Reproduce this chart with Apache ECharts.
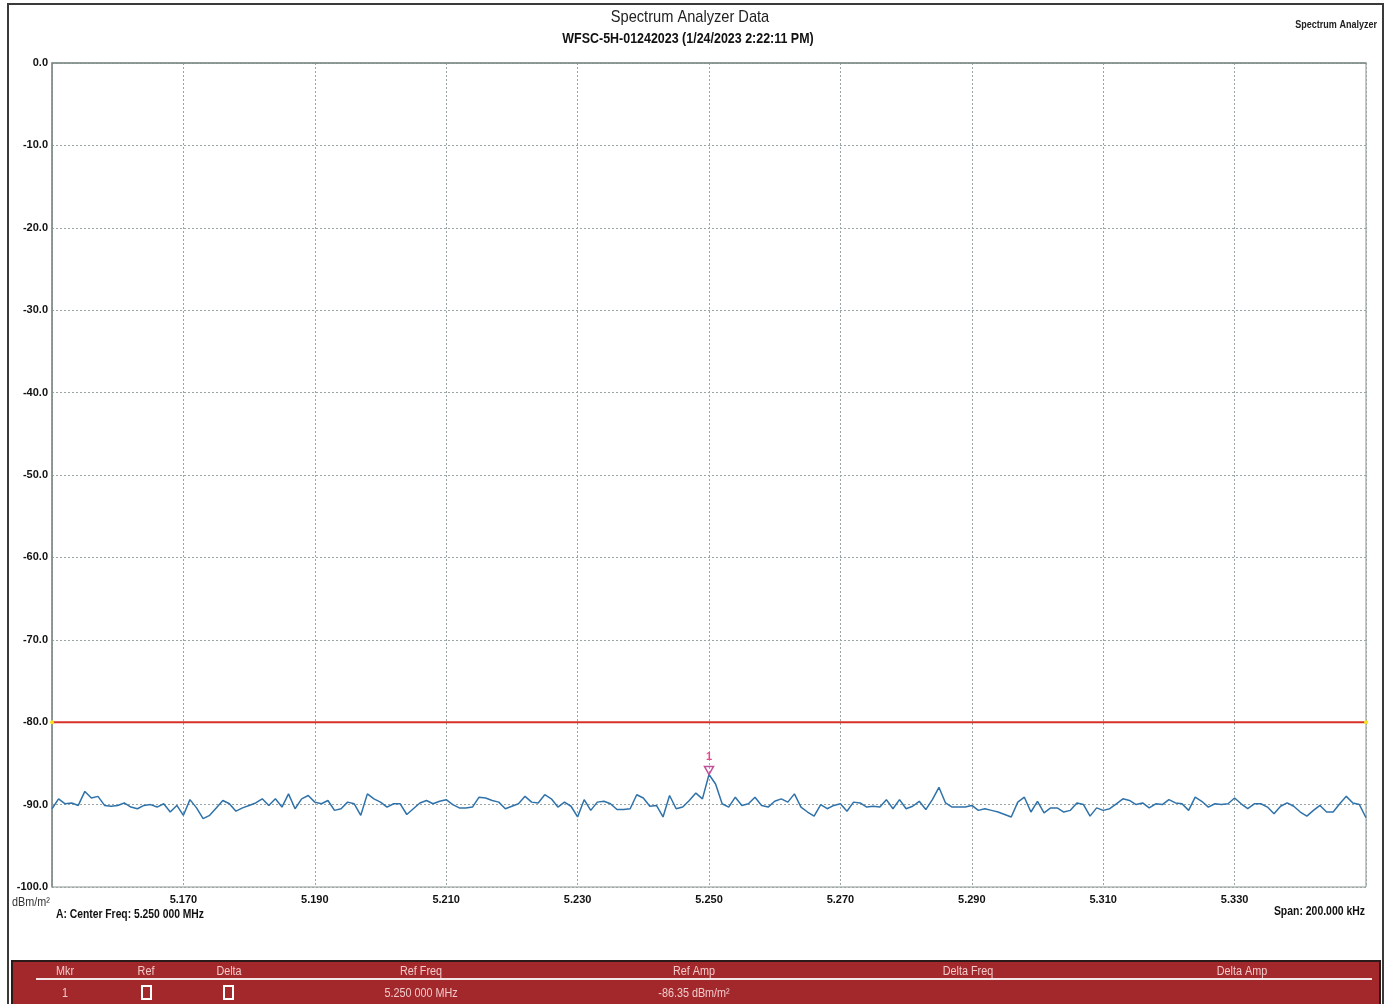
<!DOCTYPE html>
<html>
<head>
<meta charset="utf-8">
<script src="https://cdn.jsdelivr.net/npm/echarts@6/dist/echarts.min.js"></script>
<style>
html,body{margin:0;padding:0;background:#fff;}
#chart{width:1386px;height:1004px;}
</style>
</head>
<body>
<div id="chart"></div>
<script>
// ---- Data ----
const freqStartMHz = 5.150;
const freqStepMHz = 0.001;
const xTickLabels = ['5.170','5.190','5.210','5.230','5.250','5.270','5.290','5.310','5.330'];
const yTickLabels = ['0.0','-10.0','-20.0','-30.0','-40.0','-50.0','-60.0','-70.0','-80.0','-90.0','-100.0'];
const traceLevels = [
-90.5,-89.3,-89.9,-89.8,-90.1,-88.4,-89.2,-89.0,-90.1,-90.2,
-90.1,-89.8,-90.3,-90.5,-90.1,-90.0,-90.3,-89.9,-90.9,-90.1,
-91.3,-89.4,-90.4,-91.7,-91.3,-90.4,-89.5,-89.9,-90.8,-90.4,
-90.1,-89.8,-89.3,-90.1,-89.3,-90.3,-88.7,-90.5,-89.3,-88.9,
-89.7,-89.9,-89.5,-90.7,-90.5,-89.7,-89.9,-91.3,-88.7,-89.3,
-89.7,-90.3,-89.9,-89.9,-91.2,-90.5,-89.8,-89.5,-89.9,-89.6,
-89.4,-90.0,-90.4,-90.4,-90.3,-89.1,-89.2,-89.5,-89.7,-90.5,
-90.2,-89.9,-89.0,-89.7,-89.8,-88.8,-89.3,-90.3,-89.7,-90.2,
-91.5,-89.4,-90.7,-89.7,-89.6,-89.9,-90.6,-90.6,-90.5,-88.8,
-89.2,-90.2,-90.1,-91.5,-88.9,-90.5,-90.3,-89.5,-88.6,-89.3,
-86.35,-87.5,-89.9,-90.3,-89.1,-90.1,-89.9,-89.1,-90.1,-90.3,
-89.6,-89.3,-89.7,-88.7,-90.3,-90.9,-91.4,-90.0,-90.5,-90.1,
-89.9,-90.8,-89.7,-89.8,-90.3,-90.2,-90.3,-89.4,-90.5,-89.4,
-90.5,-90.2,-89.6,-90.6,-89.4,-87.9,-89.8,-90.3,-90.3,-90.3,
-90.1,-90.7,-90.5,-90.7,-90.9,-91.2,-91.5,-89.7,-89.1,-90.9,
-89.6,-91.0,-90.4,-90.4,-90.9,-90.7,-89.8,-90.0,-91.4,-90.4,
-90.7,-90.5,-89.9,-89.3,-89.5,-90.0,-89.8,-90.4,-89.9,-90.0,
-89.4,-89.8,-89.9,-90.7,-89.1,-89.6,-90.3,-89.9,-90.0,-89.9,
-89.2,-89.9,-90.5,-89.9,-89.9,-90.3,-91.1,-90.2,-89.8,-90.2,
-90.9,-91.4,-90.7,-90.1,-90.9,-90.9,-89.9,-89.0,-89.8,-90.0,
-91.6
];
const limitFreqs = [5.150, 5.350];
const limitLevels = [-80.0, -80.0];
const markerFreq = 5.250;
const markerAmp = -86.35;
const tableHeaders = ['Mkr','Ref','Delta','Ref Freq','Ref Amp','Delta Freq','Delta Amp'];
const tableRow = ['1','','','5.250 000 MHz','-86.35 dBm/m\u00b2','',''];

// ---- Build ----
const traceData = traceLevels.map((v, i) => [+(freqStartMHz + i * freqStepMHz).toFixed(3), v]);
const limitData = limitFreqs.map((f, i) => [f, limitLevels[i]]);

const FONT = '"Liberation Sans", Arial, sans-serif';
const chart = echarts.init(document.getElementById('chart'), null, {renderer: 'canvas'});

function txt(x, y, text, font, fill, align, sx) {
  return {type:'text', x:x, y:y, scaleX:sx, scaleY:1,
    style:{text:text, font:font, fill:fill, align:align, verticalAlign:'middle'}};
}

const colX = [65, 146, 229, 421, 694, 968, 1242];
const graphics = [
  {type:'rect', shape:{x:8, y:4, width:1375, height:1010}, style:{fill:'none', stroke:'#3a3a3a', lineWidth:2}, silent:true, z:-1},
  txt(690, 17, 'Spectrum Analyzer Data', '17px ' + FONT, '#222', 'center', 0.86),
  txt(688, 39, 'WFSC-5H-01242023 (1/24/2023 2:22:11 PM)', 'bold 14px ' + FONT, '#111', 'center', 0.89),
  txt(1377, 25, 'Spectrum Analyzer', 'bold 11px ' + FONT, '#222', 'right', 0.82),
  txt(12, 903, 'dBm/m\u00b2', '12px ' + FONT, '#333', 'left', 0.9),
  txt(56, 915, 'A: Center Freq: 5.250 000 MHz', 'bold 12px ' + FONT, '#111', 'left', 0.86),
  txt(1365, 912, 'Span: 200.000 kHz', 'bold 12px ' + FONT, '#111', 'right', 0.87),
  {type:'rect', shape:{x:12, y:961, width:1368, height:45}, style:{fill:'#a3282c', stroke:'#2a1a1a', lineWidth:2}, silent:true},
  {type:'line', shape:{x1:36, y1:979, x2:1372, y2:979}, style:{stroke:'#f4e6e6', lineWidth:2}, silent:true},
  {type:'rect', shape:{x:142, y:986, width:9, height:13}, style:{fill:'none', stroke:'#ffffff', lineWidth:2}, silent:true},
  {type:'rect', shape:{x:224, y:986, width:9, height:13}, style:{fill:'none', stroke:'#ffffff', lineWidth:2}, silent:true}
];
tableHeaders.forEach((h, i) => {
  graphics.push(txt(colX[i], 972, h, '12px ' + FONT, '#f2caca', 'center', 0.9));
});
tableRow.forEach((t, i) => {
  if (t) graphics.push(txt(colX[i], 994, t, '12px ' + FONT, '#f2caca', 'center', 0.9));
});

chart.setOption({
  animation: false,
  backgroundColor: '#ffffff',
  grid: {left:52, right:20, top:63, bottom:117, show:true, borderColor:'#8a9590', borderWidth:1},
  xAxis: {
    type:'value', min:5.150, max:5.350, interval:0.020,
    axisLine:{show:true, lineStyle:{color:'#7f8a85', width:1.5}},
    axisTick:{show:false},
    axisLabel:{
      showMinLabel:false, showMaxLabel:false, margin:7,
      color:'#111', fontFamily:FONT, fontSize:11, fontWeight:'bold',
      formatter: v => { const s = v.toFixed(3); return xTickLabels.includes(s) ? s : ''; }
    },
    splitLine:{show:true, lineStyle:{color:'#9aa5a5', width:1, type:[2,2]}}
  },
  yAxis: {
    type:'value', min:-100, max:0, interval:10,
    axisLine:{show:true, lineStyle:{color:'#7f8a85', width:1.5}},
    axisTick:{show:false},
    axisLabel:{
      margin:4, color:'#111', fontFamily:FONT, fontSize:11, fontWeight:'bold',
      formatter: v => { const s = v.toFixed(1); return yTickLabels.includes(s) ? s : ''; }
    },
    splitLine:{show:true, lineStyle:{color:'#9aa5a5', width:1, type:[2,2]}}
  },
  series: [
    {
      name:'Limit', type:'line', data:limitData, symbol:'circle', symbolSize:4, showSymbol:true,
      itemStyle:{color:'#f4e21c'}, lineStyle:{color:'#d8302a', width:2}, z:3
    },
    {
      name:'Trace', type:'line', data:traceData, showSymbol:false, smooth:false,
      lineStyle:{color:'#2f72aa', width:1.5}, z:4,
      markPoint:{
        symbol:'triangle', symbolRotate:180, symbolSize:[9,8], symbolOffset:[0,-4],
        itemStyle:{color:'rgba(255,255,255,0)', borderColor:'#c0509a', borderWidth:1.5},
        label:{show:true, position:'top', distance:3, formatter:'1', color:'#e04a8a', fontWeight:'bold', fontSize:11, fontFamily:FONT},
        data:[{coord:[markerFreq, markerAmp]}]
      }
    }
  ]
});
chart.setOption({graphic: graphics});
</script>
</body>
</html>
